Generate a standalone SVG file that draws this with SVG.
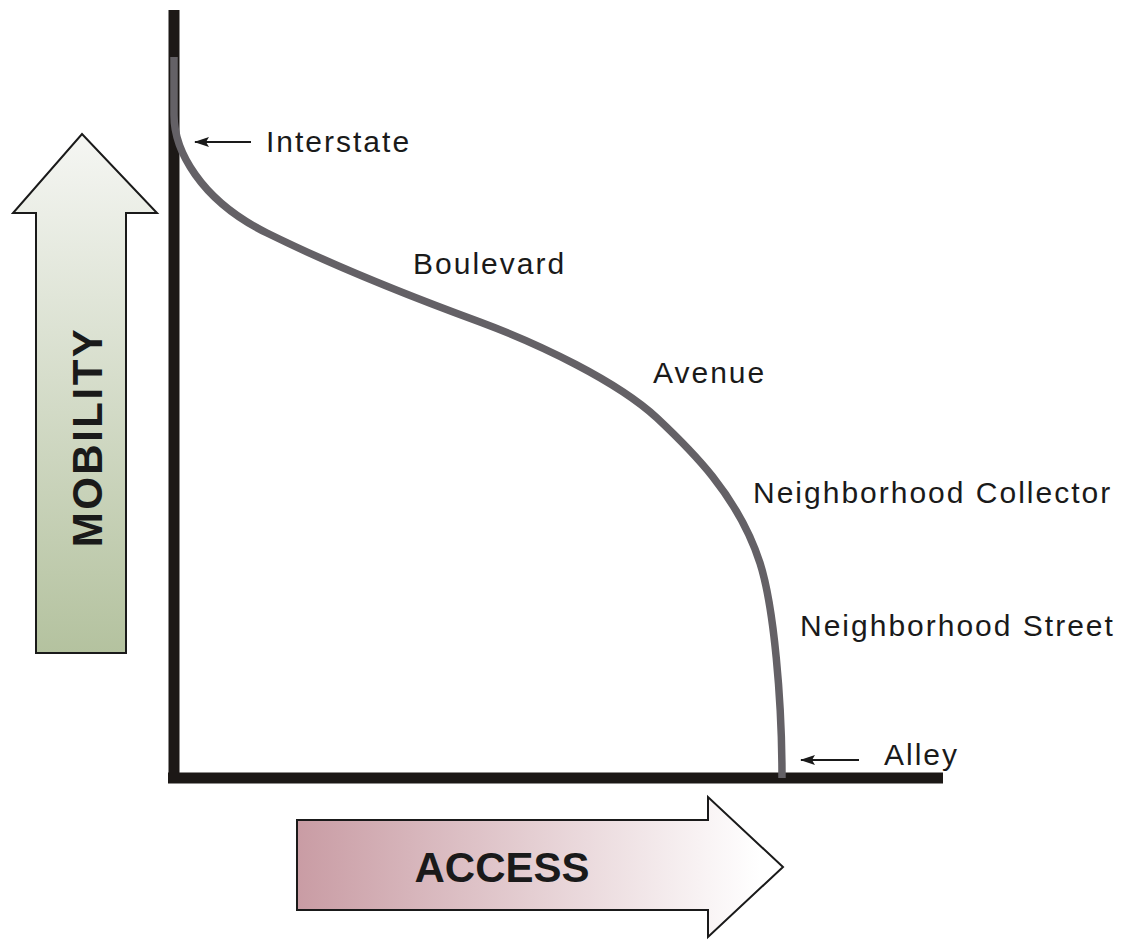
<svg xmlns="http://www.w3.org/2000/svg" width="1125" height="941" viewBox="0 0 1125 941">
  <style>
    .label { font-family: "Liberation Sans", Arial, sans-serif; font-size: 30px; letter-spacing: 2px; fill: #1a1a1a; }
    .big { font-family: "Liberation Sans", Arial, sans-serif; font-size: 42px; font-weight: bold; fill: #1a1a1a; }
    .axis { stroke: #1c1816; stroke-width: 11; fill: none; }
    .pointer { stroke: #1a1a1a; stroke-width: 2; fill: none; marker-end: url(#head); }
    .block { stroke: #1a1a1a; stroke-width: 2; stroke-linejoin: miter; }
  </style>
  <defs>
    <linearGradient id="mobFill" x1="0" y1="134" x2="0" y2="653" gradientUnits="userSpaceOnUse">
      <stop offset="0" stop-color="#f5f6f3"/>
      <stop offset="1" stop-color="#b4c29f"/>
    </linearGradient>
    <linearGradient id="accFill" x1="297" y1="0" x2="760" y2="0" gradientUnits="userSpaceOnUse">
      <stop offset="0" stop-color="#c99ca4"/>
      <stop offset="1" stop-color="#ffffff"/>
    </linearGradient>
    <marker id="head" viewBox="0 0 15 10" refX="14" refY="5" markerWidth="15" markerHeight="10" markerUnits="userSpaceOnUse" orient="auto" preserveAspectRatio="none">
      <path d="M0,0 L15,5 L0,10 L3,5 Z" fill="#1a1a1a"/>
    </marker>
  </defs>

  <rect width="1125" height="941" fill="#ffffff"/>

  <!-- big direction arrows -->
  <g id="mobility">
    <polygon class="block" fill="url(#mobFill)" points="36,653 36,213 13,213 82,134 157,213 126,213 126,653"/>
    <text class="big" letter-spacing="2.5" text-anchor="middle" transform="translate(102,437) rotate(-90)">MOBILITY</text>
  </g>
  <g id="access">
    <polygon class="block" fill="url(#accFill)" points="297,820 708,820 708,797 783,867 708,937 708,910 297,910"/>
    <text class="big" x="502" y="882" text-anchor="middle">ACCESS</text>
  </g>

  <!-- axes -->
  <g id="axes">
    <line class="axis" x1="174" y1="10" x2="174" y2="783"/>
    <line class="axis" x1="168" y1="778" x2="943" y2="778"/>
  </g>

  <!-- road hierarchy curve and pointers -->
  <g id="connectors">
    <path d="M174,57 L174,115 C174,150 200,200 267,233 C338,268 409,296 480,322 C539,344 617,381 657,418 C690,449 738,495 760,563 C774,607 782,700 782,778" fill="none" stroke="#646166" stroke-width="7.5"/>
    <line class="pointer" x1="251" y1="142" x2="195" y2="142"/>
    <line class="pointer" x1="859" y1="760" x2="801" y2="760"/>
  </g>

  <!-- road type labels -->
  <g id="interstate"><text class="label" x="266" y="152">Interstate</text></g>
  <g id="boulevard"><text class="label" x="413" y="274">Boulevard</text></g>
  <g id="avenue"><text class="label" x="653" y="383">Avenue</text></g>
  <g id="collector"><text class="label" x="753" y="503">Neighborhood Collector</text></g>
  <g id="street"><text class="label" x="800" y="636">Neighborhood Street</text></g>
  <g id="alley"><text class="label" x="884" y="765">Alley</text></g>
</svg>
